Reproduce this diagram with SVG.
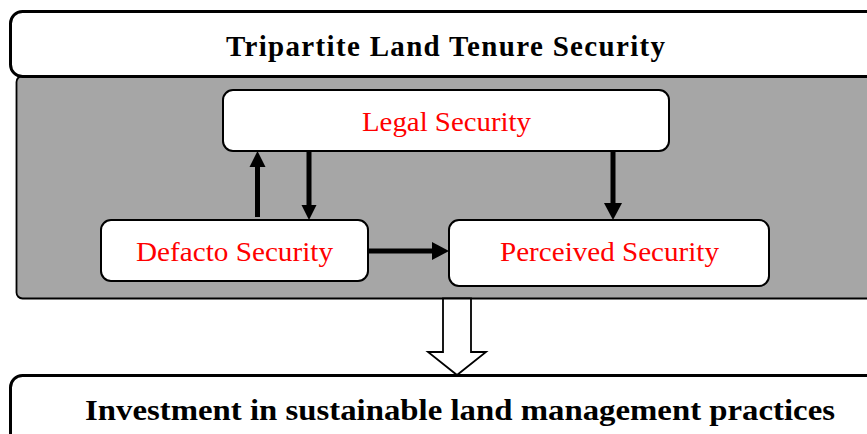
<svg xmlns="http://www.w3.org/2000/svg" width="867" height="434" viewBox="0 0 867 434">
<style>
.box{fill:#fff;stroke:#000;stroke-width:2}
.big{fill:#fff;stroke:#000;stroke-width:3}
.red{font-family:'Liberation Serif',Tinos,'Times New Roman',Times,serif;font-size:28px;fill:#ff0000;text-anchor:middle}
.bold{font-family:'Liberation Serif',Tinos,'Times New Roman',Times,serif;font-size:29px;font-weight:bold;fill:#000;text-anchor:middle}
.ln{stroke:#000;stroke-width:5;fill:none}
.hd{fill:#000;stroke:none}
</style>
<rect width="867" height="434" fill="#fff"/>
<g id="panel">
<rect x="16.5" y="76" width="880" height="222.5" rx="6" fill="#a6a6a6" stroke="#000" stroke-width="1.8"/>
</g>
<g id="title">
<rect class="big" x="10.5" y="11.5" width="900" height="65" rx="12"/>
<text class="bold" x="445.5" y="56" textLength="439" lengthAdjust="spacing">Tripartite  Land  Tenure  Security</text>
</g>
<g id="legal">
<rect class="box" x="223" y="90" width="446" height="61" rx="10"/>
<text class="red" x="446.5" y="131" textLength="169" lengthAdjust="spacingAndGlyphs">Legal Security</text>
</g>
<g id="defacto">
<rect class="box" x="101" y="220" width="267" height="61" rx="10"/>
<text class="red" x="234.5" y="261" textLength="197" lengthAdjust="spacingAndGlyphs">Defacto Security</text>
</g>
<g id="perceived">
<rect class="box" x="449" y="220" width="320" height="66" rx="10"/>
<text class="red" x="609.5" y="261" textLength="219" lengthAdjust="spacingAndGlyphs">Perceived Security</text>
</g>
<g id="investment">
<rect class="big" x="10.5" y="375.5" width="900" height="80" rx="12"/>
<text class="bold" x="460" y="420" font-size="30" textLength="750" lengthAdjust="spacingAndGlyphs">Investment in sustainable land management practices</text>
</g>
<g id="connectors">
<line class="ln" x1="257.5" y1="217" x2="257.5" y2="165"/>
<polygon class="hd" points="249.5,167 265.5,167 257.5,151"/>
<line class="ln" x1="309" y1="152" x2="309" y2="206" stroke-width="4"/>
<polygon class="hd" points="301.5,205 316.5,205 309,220"/>
<line class="ln" x1="613" y1="152" x2="613" y2="206" stroke-width="5"/>
<polygon class="hd" points="604,203 622,203 613,220"/>
<line class="ln" x1="368" y1="251" x2="434" y2="251" stroke-width="6"/>
<polygon class="hd" points="432,242 432,260 449,251"/>
<polygon points="443,298.5 471,298.5 471,352 486,352 457,375 428,352 443,352" fill="#fff" stroke="#000" stroke-width="1.8" stroke-linejoin="miter"/>
</g>
</svg>
